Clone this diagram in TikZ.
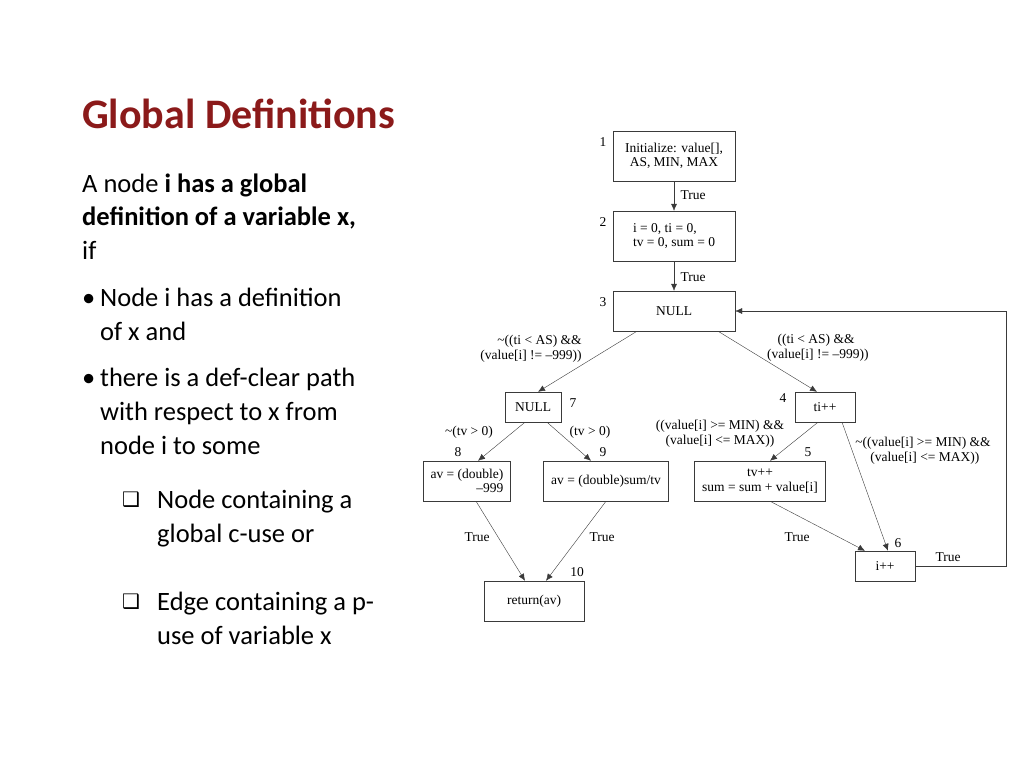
\documentclass[tikz,border=0pt]{standalone}
\usepackage{fontspec}
\setmainfont{Carlito}
\newfontfamily\graphfont{Liberation Serif}
\newfontfamily\symfont{DejaVu Sans}
\usetikzlibrary{arrows.meta, positioning, calc}
\definecolor{titlered}{HTML}{8B1A1A}
\definecolor{edgegray}{HTML}{3A3A3A}
\begin{document}
\begin{tikzpicture}[x=1pt, y=-1pt,
    blk/.style={draw=edgegray, thin, minimum width=#1, inner sep=2pt, font=\fontsize{13.5}{14.5}\graphfont},
    lbl/.style={font=\fontsize{13.5}{15}\graphfont, inner sep=0pt},
    num/.style={font=\fontsize{13.5}{14}\graphfont, inner sep=0pt},
    flow/.style={-{Latex[length=7pt,width=6pt]}, edgegray, thin},
    line/.style={anchor=base west, inner sep=0pt, font=\fontsize{26.5}{30}\selectfont}
]
\useasboundingbox (0,0) rectangle (1024,768);

% Title and text
\begin{scope}
\clip (0,60) rectangle (408,150);
\node[anchor=base west, inner sep=0pt, text=titlered, font=\fontsize{42}{44}\selectfont\bfseries] (title) at (82,128) {Global Definitions};
\end{scope}
\node[line] (t1) at (82,192) {A node \textbf{i has a global}};
\node[line] (t2) at (82,225) {\textbf{definition of a variable x,}};
\node[line] (t3) at (82,259) {if};
\node[line] (b1) at (82,306) {\textbullet};
\node[line] (t4) at (100,306) {Node i has a definition};
\node[line] (t5) at (100,340) {of x and};
\node[line] (b2) at (82,386) {\textbullet};
\node[line] (t6) at (100,386) {there is a def-clear path};
\node[line] (t7) at (100,420) {with respect to x from};
\node[line] (t8) at (100,454) {node i to some};
\node[line, font=\fontsize{20}{24}\symfont] (s1) at (122,506) {❑};
\node[line] (t9) at (157,508) {Node containing a};
\node[line] (t10) at (157,542) {global c-use or};
\node[line, font=\fontsize{20}{24}\symfont] (s2) at (122,608) {❑};
\node[line] (t11) at (157,610) {Edge containing a p-};
\node[line] (t12) at (157,644) {use of variable x};

% Graph nodes
\node[blk=122pt, minimum height=50pt, align=center] (n1) at (674,156) {Initialize: value[],\\AS, MIN, MAX};
\node[blk=122pt, minimum height=50pt, align=left] (n2) at (674,236) {i = 0, ti = 0,\\tv = 0, sum = 0};
\node[blk=122pt, minimum height=40pt] (n3) at (674,311) {NULL};
\node[blk=56pt, minimum height=30pt] (n7) at (533,407) {NULL};
\node[blk=60pt, minimum height=30pt] (n4) at (825,407) {ti++};
\node[blk=87pt, minimum height=40pt, align=right] (n8) at (467,481) {av = (double)\\–999};
\node[blk=125pt, minimum height=40pt] (n9) at (606,481) {av = (double)sum/tv};
\node[blk=131pt, minimum height=40pt, align=center] (n5) at (760,481) {tv++\\sum = sum + value[i]};
\node[blk=60pt, minimum height=30pt] (n6) at (885,566) {i++};
\node[blk=100pt, minimum height=40pt] (n10) at (534,601) {return(av)};

% Node numbers
\node[num] (k1) at (603,142) {1};
\node[num] (k2) at (603,222) {2};
\node[num] (k3) at (603,302) {3};
\node[num] (k7) at (573,403) {7};
\node[num] (k4) at (783,398) {4};
\node[num] (k8) at (458,452) {8};
\node[num] (k9) at (603,452) {9};
\node[num] (k5) at (808,452) {5};
\node[num] (k6) at (898,543) {6};
\node[num] (k10) at (577,572) {10};

% Edges
\draw[flow] (n1) -- (n2);
\draw[flow] (n2) -- (n3);
\draw[flow] ([xshift=-37pt]n3.south) -- ([xshift=5pt]n7.north);
\draw[flow] ([xshift=44pt]n3.south) -- ([xshift=-8pt]n4.north);
\draw[flow] ([xshift=-8pt]n7.south) -- ([xshift=11pt]n8.north);
\draw[flow] ([xshift=14pt]n7.south) -- ([xshift=-15pt]n9.north);
\draw[flow] ([xshift=-7pt]n4.south) -- ([xshift=10pt]n5.north);
\draw[flow] ([xshift=17pt]n4.south) -- ([xshift=3pt]n6.north);
\draw[flow] ([xshift=9pt]n8.south) -- ([xshift=-9pt]n10.north);
\draw[flow] (n9.south) -- ([xshift=12pt]n10.north);
\draw[flow] ([xshift=10pt]n5.south) -- ([xshift=-20pt]n6.north);
\draw[flow] (n6.east) -- (1006,566) -- (1006,311) -- (n3.east);

% Edge labels
\node[lbl] (e1) at (693,195) {True};
\node[lbl] (e2) at (693,277) {True};
\node[lbl, align=right] (e3) at (531,349) {\textasciitilde((ti < AS) \&\&\\(value[i] != –999))};
\node[lbl, align=center] (e4) at (816,348) {((ti < AS) \&\&\\\;(value[i] != –999))};
\node[lbl] (e5) at (469,432) {\textasciitilde(tv > 0)};
\node[lbl] (e6) at (590,432) {(tv > 0)};
\node[lbl, align=center] (e7) at (720,434) {((value[i] >= MIN) \&\&\\(value[i] <= MAX))};
\node[lbl, align=center] (e8) at (923,451) {\textasciitilde((value[i] >= MIN) \&\&\\\;(value[i] <= MAX))};
\node[lbl] (e9) at (477,537) {True};
\node[lbl] (e10) at (602,537) {True};
\node[lbl] (e11) at (797,537) {True};
\node[lbl] (e12) at (948,557) {True};
\end{tikzpicture}
\end{document}
